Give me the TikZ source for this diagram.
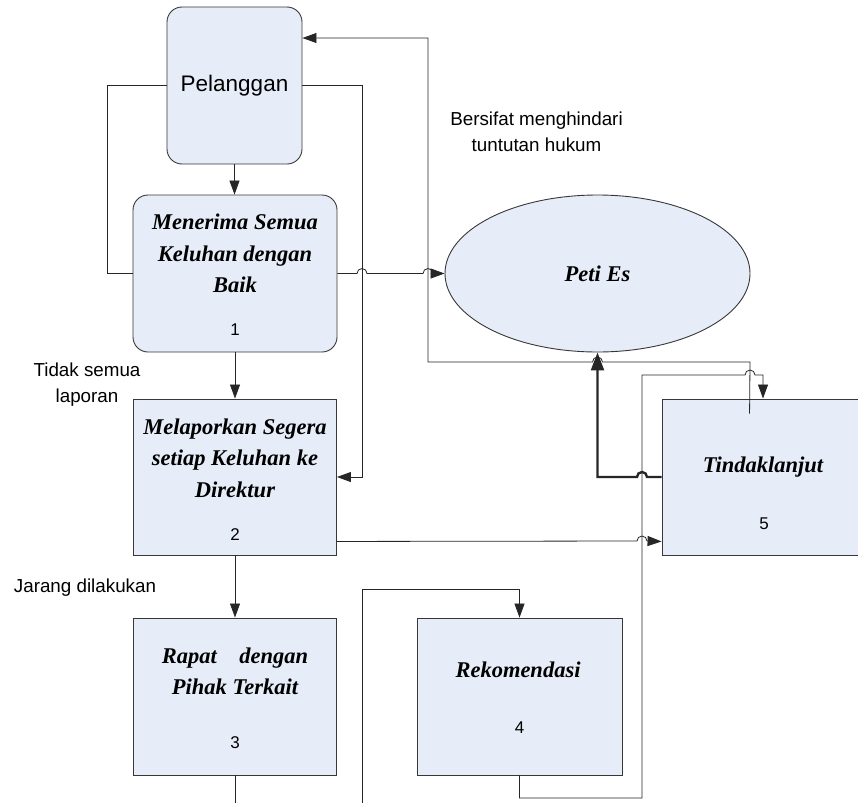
\documentclass[tikz,border=0pt]{standalone}
\usepackage{fontspec}
\setmainfont{Liberation Sans}
\newfontfamily\judulfont{Liberation Serif}
\usetikzlibrary{arrows.meta,shapes.geometric}

\definecolor{isian}{RGB}{231,237,248}
\definecolor{garis}{RGB}{55,55,55}

\begin{document}
\begin{tikzpicture}[x=1pt,y=1pt,
    kotak/.style={draw=garis,fill=isian,line width=0.9pt,inner sep=0pt},
    judul/.style={font=\judulfont\bfseries\itshape\fontsize{22.5}{31.5}\selectfont,align=center},
    nomor/.style={font=\fontsize{17}{20}\selectfont},
    catatan/.style={font=\fontsize{18.8}{26}\selectfont,align=center},
    alur/.style={draw=black!85,line width=0.8pt,-{Triangle[length=14pt,width=10pt]}},
    polos/.style={draw=black!85,line width=0.8pt}]
        \useasboundingbox (0,0) rectangle (858,-803);

        % kotak-kotak
        \node[kotak,rounded corners=15pt,minimum width=135pt,minimum height=157pt,
              font=\fontsize{22.5}{26}\selectfont] (pel) at (234.5,-85.5) {Pelanggan};
        \node[kotak,rounded corners=15pt,minimum width=204pt,minimum height=157pt] (terima) at (235,-273.5) {};
        \node[kotak,minimum width=203pt,minimum height=156pt] (lapor) at (235,-477) {};
        \node[kotak,minimum width=203pt,minimum height=157pt] (rapat) at (235,-696.5) {};
        \node[kotak,minimum width=205pt,minimum height=157pt] (rekom) at (519.5,-696.5) {};
        \node[kotak,minimum width=202pt,minimum height=156pt] (tindak) at (763,-477) {};
        \node[kotak,ellipse,minimum width=305pt,minimum height=157pt] (peti) at (597.5,-273.5) {};

        \node[judul] (tterima) at (235,-253.5) {Menerima Semua\\Keluhan dengan\\Baik};
        \node[nomor] (nterima) at (235,-330) {1};
        \node[judul] (tlapor) at (235,-458) {Melaporkan Segera\\setiap Keluhan ke\\Direktur};
        \node[nomor] (nlapor) at (235,-535) {2};
        \node[judul] (trapat) at (235,-671.5) {Rapat\ \ \ \ dengan\\Pihak Terkait};
        \node[nomor] (nrapat) at (235,-743) {3};
        \node[judul] (trekom) at (518,-670) {Rekomendasi};
        \node[nomor] (nrekom) at (519.5,-728) {4};
        \node[judul] (ttindak) at (763,-467) {Tindaklanjut};
        \node[nomor] (ntindak) at (764,-524) {5};
        \node[judul] (tpeti) at (597.5,-273.5) {Peti Es};

        % catatan
        \node[catatan] (hukum) at (536.5,-131.5) {Bersifat menghindari\\tuntutan hukum};
        \node[catatan] (tidak) at (87,-384.5) {Tidak semua\\laporan};
        \node[catatan] (jarang) at (85,-588) {Jarang dilakukan};

        \coordinate (bawah3) at (235,-803);
        \coordinate (bawah4) at (362,-803);

        % garis alur
        \draw[alur] (pel.south) -- (pel.south |- terima.north);
        \draw[alur] (terima.south) -- (lapor.north);
        \draw[alur] (lapor.south) -- (rapat.north);
        \draw[polos] (rapat.south) -- (bawah3);
        \draw[polos] (pel.west) -- (107,-85.5) -- (107,-273.5) -- (terima.west);
        \draw[alur] (pel.east) -- (362,-85.5) -- (362,-477) -- (lapor.east);
        \draw[alur] (terima.east) -- (357,-273.5) arc[start angle=180,end angle=0,radius=5pt]
              -- (423,-273.5) arc[start angle=180,end angle=0,radius=5pt] -- (peti.west);
        \draw[alur] ([xshift=88pt,yshift=-15pt]tindak.north west) -- (750,-362)
              -- (602.5,-362) arc[start angle=0,end angle=180,radius=5pt]
              -- (428,-362) -- (428,-38) -- ([yshift=47.5pt]pel.east);
        \draw[alur,line width=2.4pt,-{Triangle[length=18pt,width=13pt]}] (tindak.west)
              -- (647,-477) arc[start angle=0,end angle=180,radius=5pt] -- (597.5,-477) -- (peti.south);
        \draw[alur] ([yshift=14pt]lapor.south east) -- (637,-541) arc[start angle=180,end angle=0,radius=5pt]
              -- ([yshift=14pt]tindak.south west);
        \draw[alur] (rekom.south) -- (519.5,-798) -- (642,-798) -- (642,-375)
              -- (745,-375) arc[start angle=180,end angle=0,radius=5pt] -- (763,-375) -- (tindak.north);
        \draw[alur] (bawah4) -- (362,-589) -- (519.5,-589) -- (rekom.north);
    \end{tikzpicture}
\end{document}
